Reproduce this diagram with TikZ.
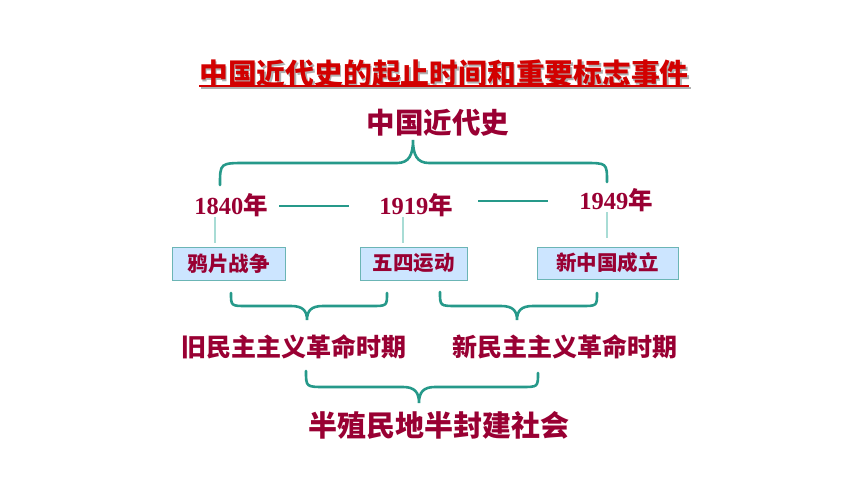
\documentclass[tikz,border=0pt]{standalone}
\usepackage{fontspec}
\setmainfont{Liberation Serif}
\newfontfamily\cjk{Noto Sans CJK SC}
\definecolor{maroon}{HTML}{990033}
\definecolor{titlered}{HTML}{D20000}
\definecolor{tealc}{HTML}{26998A}
\definecolor{ltealc}{HTML}{A8DCD5}
\definecolor{boxfill}{HTML}{CCE5FF}
\definecolor{boxline}{HTML}{6BB5B5}
\definecolor{shadowc}{HTML}{B0B0B0}
\newcommand\curlybr[7]{% x1 yt yh xt yb x2 yt2
  \draw[bracestyle] (#1,#2) .. controls (#1,#3) and (#1,#3) .. ({#1+1.2*abs(#3-#2)},#3)
    -- ({#4-16},#3) .. controls ({#4-4},#3) and (#4,{#3+0.35*(#5-#3)}) .. (#4,#5)
    .. controls (#4,{#3+0.35*(#5-#3)}) and ({#4+4},#3) .. ({#4+16},#3)
    -- ({#6-1.2*abs(#3-#7)},#3) .. controls (#6,#3) and (#6,#3) .. (#6,#7);}
\begin{document}
\begin{tikzpicture}[x=1pt,y=-1pt,
  txt/.style={inner sep=0pt,text=maroon,font=\cjk\bfseries},
  titlefont/.style={inner sep=0pt,anchor=west,font=\cjk\bfseries\fontsize{28.8}{31}\selectfont},
  yeartxt/.style={inner sep=0pt,text=maroon,font=\fontsize{24.5}{26}\selectfont\bfseries},
  eventbox/.style={draw=boxline,line width=1pt,fill=boxfill,inner sep=0pt,minimum height=33pt,text=maroon,font=\cjk\bfseries\fontsize{20.5}{22}\selectfont},
  bracestyle/.style={draw=tealc,line width=2.6pt,line cap=round},
  dashline/.style={draw=tealc,line width=2.2pt},
  vline/.style={draw=ltealc,line width=1.4pt}]
\useasboundingbox (0,0) rectangle (860,484);
% title with shadow
\node[titlefont,text=shadowc] (titleshadow) at (200.5,75.5) {中国近代史的起止时间和重要标志事件};
\node[titlefont,text=titlered] (title) at (199,74) {中国近代史的起止时间和重要标志事件};
\coordinate (ulA) at (199,86); \coordinate (ulB) at (689,86);
\coordinate (ulsA) at (201,88); \coordinate (ulsB) at (691,88);
\draw[shadowc,line width=1.6pt] (ulsA) -- (ulsB);
\draw[titlered,line width=1.6pt] (ulA) -- (ulB);
% heading
\node[txt,font=\cjk\bfseries\fontsize{28.5}{30}\selectfont] (head) at (438,123) {中国近代史};
\curlybr{220}{185}{163}{413}{140}{607}{182}
% years
\node[yeartxt] (y1840) at (231,205) {1840{\cjk 年}};
\node[yeartxt] (y1919) at (416,205) {1919{\cjk 年}};
\node[yeartxt] (y1949) at (616,200) {1949{\cjk 年}};
\coordinate (d1a) at (279,206); \coordinate (d1b) at (349,206);
\coordinate (d2a) at (478,201); \coordinate (d2b) at (548,201);
\draw[dashline] (d1a) -- (d1b);
\draw[dashline] (d2a) -- (d2b);
% boxes
\node[eventbox,minimum width=113pt] (b1) at (228.5,263.5) {鸦片战争};
\node[eventbox,minimum width=107pt] (b2) at (413.5,263.5) {五四运动};
\node[eventbox,minimum width=141pt,minimum height=32pt] (b3) at (607.5,263) {新中国成立};
\coordinate (v1) at (215,217); \coordinate (v2) at (403,217); \coordinate (v3) at (607,212);
\draw[vline,shorten >=4pt] (v1) -- (v1 |- b1.north);
\draw[vline,shorten >=4pt] (v2) -- (v2 |- b2.north);
\draw[vline,shorten >=9pt] (v3) -- (v3 |- b3.north);
% lower braces
\curlybr{231}{293}{306}{307}{320}{387}{293}
\curlybr{440}{292}{306}{517}{320}{597}{293}
\node[txt,font=\cjk\bfseries\fontsize{25}{27}\selectfont] (oldp) at (293.5,347) {旧民主主义革命时期};
\node[txt,font=\cjk\bfseries\fontsize{25}{27}\selectfont] (newp) at (565,347) {新民主主义革命时期};
\curlybr{306}{371}{387}{419}{403}{538}{373}
\node[txt,font=\cjk\bfseries\fontsize{29}{31}\selectfont] (society) at (438.5,425) {半殖民地半封建社会};
\end{tikzpicture}
\end{document}
